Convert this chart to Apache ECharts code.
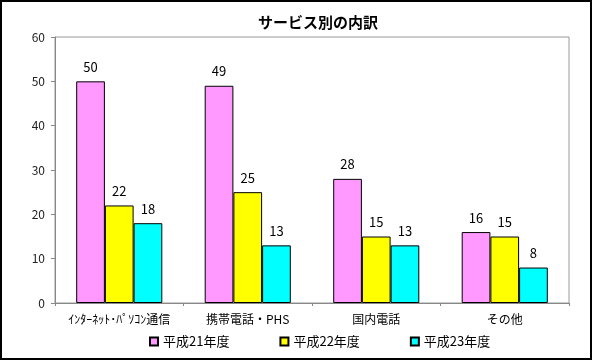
<!DOCTYPE html>
<html>
<head>
<meta charset="utf-8">
<script src="https://cdn.jsdelivr.net/npm/echarts@6/dist/echarts.min.js"></script>
<style>
html,body{margin:0;padding:0;background:#fff;}
#c{width:592px;height:360px;box-sizing:border-box;border:2px solid #000;}
</style>
</head>
<body>
<div id="c"></div>
<script>
const categories = ['ｲﾝﾀｰﾈｯﾄ･ﾊﾟｿｺﾝ通信', '携帯電話・PHS', '国内電話', 'その他'];
const seriesNames = ['平成21年度', '平成22年度', '平成23年度'];
const h21 = [50, 49, 28, 16];
const h22 = [22, 25, 15, 15];
const h23 = [18, 13, 13, 8];
const colors = ['#ff99ff', '#ffff00', '#00ffff'];
const yTicks = {min: 0, max: 60, interval: 10};

const font = '"Noto Sans CJK JP", "Noto Sans", sans-serif';
const chart = echarts.init(document.getElementById('c'));
const mk = (name, data, color) => ({
  name, type: 'bar', data, barGap: '0%', barCategoryGap: '33%',
  itemStyle: {color, borderColor: '#000', borderWidth: 1},
  label: {show: true, position: 'top', distance: 8, color: '#000', fontSize: 13, fontFamily: font},
  animation: false
});
chart.setOption({
  animation: false,
  textStyle: {fontFamily: font},
  title: {text: 'サービス別の内訳', left: 311, top: 8, textAlign: 'center',
    textStyle: {fontSize: 15, fontWeight: 'bold', color: '#000', fontFamily: font}},
  grid: {left: 53, right: 21, top: 35, bottom: 55, show: true, borderColor: '#999', borderWidth: 1},
  legend: {left: 142, top: 328, itemWidth: 8, itemHeight: 8, itemGap: 50, icon: 'rect',
    textStyle: {fontSize: 13, color: '#000', fontFamily: font},
    data: seriesNames},
  xAxis: {type: 'category', data: categories,
    axisLine: {lineStyle: {color: '#888'}},
    axisTick: {show: true, length: 3, lineStyle: {color: '#888'}},
    axisLabel: {color: '#000', fontSize: 12, margin: 10, interval: 0, fontFamily: font}},
  yAxis: {type: 'value', min: yTicks.min, max: yTicks.max, interval: yTicks.interval,
    axisLine: {show: true, lineStyle: {color: '#888'}},
    axisTick: {show: true, length: 4, lineStyle: {color: '#888'}},
    splitLine: {show: false},
    axisLabel: {color: '#222', fontSize: 12, margin: 10, fontFamily: font}},
  series: [mk(seriesNames[0], h21, colors[0]), mk(seriesNames[1], h22, colors[1]), mk(seriesNames[2], h23, colors[2])]
});
</script>
</body>
</html>
